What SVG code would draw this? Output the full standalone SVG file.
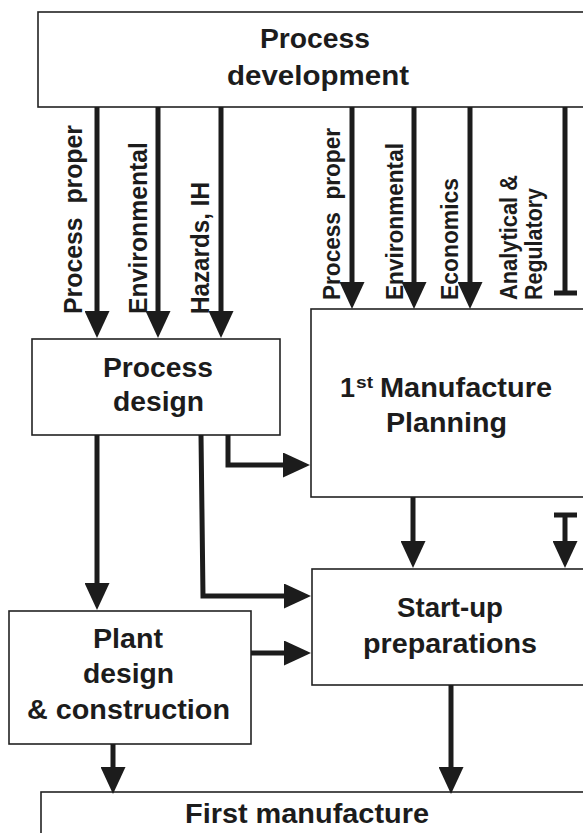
<svg xmlns="http://www.w3.org/2000/svg" width="583" height="833" viewBox="0 0 583 833">
<style>
.box{fill:#fff;stroke:#222;stroke-width:1.6}
.t{font-family:"Liberation Sans",Arial,sans-serif;font-weight:bold;font-size:27px;fill:#1c1c1c;text-anchor:middle}
.lb{font-family:"Liberation Sans",Arial,sans-serif;font-weight:bold;fill:#1c1c1c;white-space:pre}
.c{fill:none;stroke:#1c1c1c;stroke-width:5}
.ah{marker-end:url(#ah)}
</style>
<defs>
<marker id="ah" viewBox="0 0 27 25" refX="1" refY="12.5" markerWidth="27" markerHeight="25" orient="auto" markerUnits="userSpaceOnUse">
<path d="M0,0 L27,12.5 L0,25 z" fill="#1c1c1c"/>
</marker>
</defs>
<rect width="583" height="833" fill="#fff"/>

<g id="process-development">
<rect class="box" x="38" y="12" width="580" height="95"/>
<text class="t" x="315" y="48" textLength="110" lengthAdjust="spacingAndGlyphs">Process</text>
<text class="t" x="318" y="85" textLength="182" lengthAdjust="spacingAndGlyphs">development</text>
</g>

<g id="process-design">
<rect class="box" x="32" y="339" width="248" height="96"/>
<text class="t" x="158" y="377" textLength="110" lengthAdjust="spacingAndGlyphs">Process</text>
<text class="t" x="158.5" y="411" textLength="91" lengthAdjust="spacingAndGlyphs">design</text>
</g>

<g id="manufacture-planning">
<rect class="box" x="311" y="309" width="290" height="188"/>
<text class="lb" x="340" y="397" font-size="27">1</text>
<text class="lb" x="356" y="388" font-size="16" textLength="17" lengthAdjust="spacingAndGlyphs">st</text>
<text class="lb" x="380" y="397" font-size="27" textLength="172" lengthAdjust="spacingAndGlyphs">Manufacture</text>
<text class="t" x="446.5" y="432" textLength="121" lengthAdjust="spacingAndGlyphs">Planning</text>
</g>

<g id="startup-preparations">
<rect class="box" x="312" y="569" width="290" height="116"/>
<text class="t" x="450" y="617" textLength="106" lengthAdjust="spacingAndGlyphs">Start-up</text>
<text class="t" x="450" y="653" textLength="174" lengthAdjust="spacingAndGlyphs">preparations</text>
</g>

<g id="plant-design">
<rect class="box" x="9" y="611" width="242" height="133"/>
<text class="t" x="128" y="648" textLength="70" lengthAdjust="spacingAndGlyphs">Plant</text>
<text class="t" x="128.5" y="683" textLength="91" lengthAdjust="spacingAndGlyphs">design</text>
<text class="t" x="128.5" y="719" textLength="203" lengthAdjust="spacingAndGlyphs">&amp; construction</text>
</g>

<g id="first-manufacture">
<rect class="box" x="41" y="792" width="580" height="60"/>
<text class="t" x="307" y="823" textLength="244" lengthAdjust="spacingAndGlyphs">First manufacture</text>
</g>

<g id="connectors">
<path class="c ah" d="M97,107 V312"/>
<path class="c ah" d="M158,107 V312"/>
<path class="c ah" d="M221,107 V312"/>
<path class="c ah" d="M352,107 V283"/>
<path class="c ah" d="M414,107 V283"/>
<path class="c ah" d="M470,107 V283"/>
<path class="c" d="M565,107 V293 M554,293 H577"/>
<path class="c ah" d="M97,435 V584"/>
<path class="c ah" d="M201,435 L203,596 H285"/>
<path class="c ah" d="M228,435 V465 H284"/>
<path class="c ah" d="M413,497 V542"/>
<path class="c" d="M554,515 H577"/>
<path class="c ah" d="M565,515 V542"/>
<path class="c ah" d="M251,653 H285"/>
<path class="c ah" d="M113,744 V768"/>
<path class="c ah" d="M451,685 V768"/>
</g>

<g id="labels">
<text class="lb" font-size="25" transform="translate(82,314) rotate(-90)" textLength="189" lengthAdjust="spacingAndGlyphs">Process  proper</text>
<text class="lb" font-size="25" transform="translate(147,314) rotate(-90)" textLength="172" lengthAdjust="spacingAndGlyphs">Environmental</text>
<text class="lb" font-size="25" transform="translate(209,314) rotate(-90)" textLength="132" lengthAdjust="spacingAndGlyphs">Hazards, IH</text>
<text class="lb" font-size="23" transform="translate(340,300) rotate(-90)" textLength="172" lengthAdjust="spacingAndGlyphs">Process  proper</text>
<text class="lb" font-size="23" transform="translate(403,300) rotate(-90)" textLength="157" lengthAdjust="spacingAndGlyphs">Environmental</text>
<text class="lb" font-size="23" transform="translate(458,300) rotate(-90)" textLength="122" lengthAdjust="spacingAndGlyphs">Economics</text>
<text class="lb" font-size="23" transform="translate(517,300) rotate(-90)" textLength="125" lengthAdjust="spacingAndGlyphs">Analytical &amp;</text>
<text class="lb" font-size="23" transform="translate(542,300) rotate(-90)" textLength="112" lengthAdjust="spacingAndGlyphs">Regulatory</text>
</g>
</svg>
